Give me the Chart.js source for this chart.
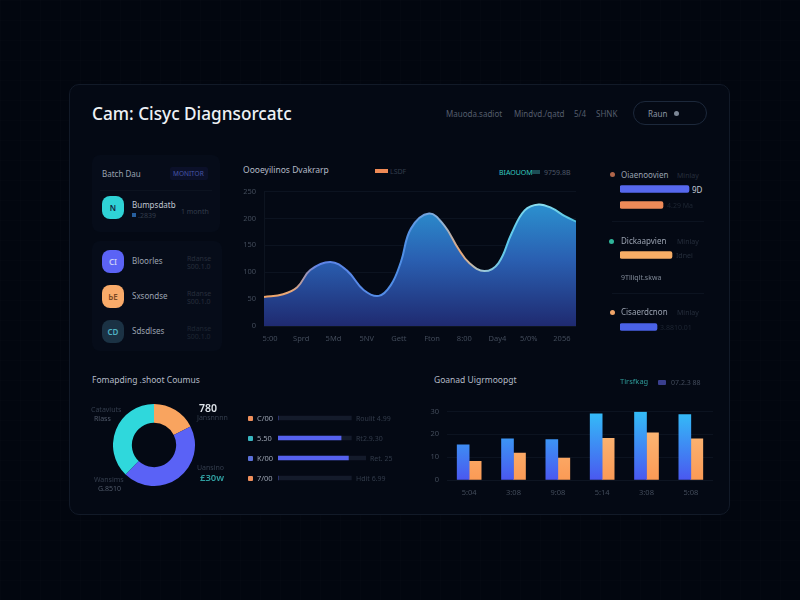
<!DOCTYPE html>
<html>
<head>
<meta charset="utf-8">
<title>Dashboard</title>
<script src="https://cdn.jsdelivr.net/npm/chart.js@4"></script>
<style>
html, body { margin: 0; width: 800px; height: 600px; overflow: hidden; background: #02060f; }
body { background-image: linear-gradient(rgba(255,255,255,.008) 1px, transparent 1px), linear-gradient(90deg, rgba(255,255,255,.008) 1px, transparent 1px); background-size: 20px 20px; }
#page { position: absolute; left: 0; top: 0; width: 800px; height: 600px; font-family: "Noto Sans", sans-serif; filter: blur(.4px); }
#page div, #page span, #page canvas { position: absolute; }
.box { box-sizing: border-box; }
.card { left: 69px; top: 84px; width: 661px; height: 431px; background: #040914; border: 1px solid #121a28; border-radius: 10px; }
.panel { background: #060c19; border-radius: 8px; }
.line { height: 1px; background: #0c1320; }
.t { white-space: nowrap; line-height: 1; transform: translateY(-50%); }
.head { color: #b4bbc7; font-size: 9px; }
.mid { color: #9aa2b0; font-size: 8px; }
.dim { color: #333c4b; font-size: 7px; }
.dot { width: 5px; height: 5px; border-radius: 50%; }
.icon { width: 22px; height: 23px; border-radius: 8px; }
.icon b { position: absolute; left: 0; width: 100%; top: 6px; text-align: center; font-size: 8px; font-weight: 600; color: #11233a; }
</style>
</head>
<body>
<div id="page">
  <div class="box card"></div>
  <div class="box panel" style="left:92px;top:155px;width:128px;height:77px"></div>
  <div class="box panel" style="left:92px;top:241px;width:130px;height:110px"></div>
  <div class="line" style="left:100px;top:190px;width:112px"></div>
  <div class="line" style="left:612px;top:221px;width:92px"></div>
  <div class="line" style="left:612px;top:293px;width:92px"></div>

  <div class="t" style="left:92px;top:114px;font-size:17.2px;font-weight:500;color:#eef1f5">Cam: Cisyc Diagnsorcatc</div>
  <div class="t dim" style="left:446px;top:114px;font-size:8px;color:#545d6c">Mauoda.sadiot</div>
  <div class="t dim" style="left:514px;top:114px;font-size:8px;color:#545d6c">Mindvd./qatd</div>
  <div class="t dim" style="left:574px;top:114px;font-size:8px;color:#545d6c">5/4</div>
  <div class="t dim" style="left:596px;top:114px;font-size:8px;color:#545d6c">SHNK</div>
  <div class="box" style="left:633px;top:101px;width:74px;height:24px;border:1px solid #1c283b;border-radius:12px"></div>
  <div class="t dim" style="left:648px;top:114px;font-size:8px;color:#8b94a3">Raun</div>
  <div class="dot" style="left:674px;top:111px;background:#7c8796"></div>

  <div class="t mid" style="left:102px;top:174px">Batch Dau</div>
  <div class="box" style="left:170px;top:167px;width:38px;height:13px;background:#0b1029;border-radius:2px"></div>
  <div class="t dim" style="left:173px;top:174px;color:#4756a8;font-size:6.5px">MONITOR</div>
  <div class="icon" style="left:102px;top:196px;background:#2fd3d6"><b>N</b></div>
  <div class="t mid" style="left:132px;top:205px;color:#c0c7d2">Bumpsdatb</div>
  <div class="box" style="left:132px;top:213px;width:4px;height:4px;background:#275f9e"></div>
  <div class="t dim" style="left:138px;top:215px">.2839</div>
  <div class="t dim" style="left:181px;top:211px">1 month</div>

  <div class="icon" style="left:102px;top:250px;background:#5b63f5"><b style="color:#c8ccf7">CI</b></div>
  <div class="t mid" style="left:132px;top:261px">Bloorles</div>
  <div class="t dim" style="left:187px;top:258px;color:#262e3c">Rdanse</div>
  <div class="t dim" style="left:187px;top:266px;color:#262e3c">S00.1.0</div>
  <div class="icon" style="left:102px;top:285px;background:#f9ab6a"><b style="color:#7a4a24">ЬE</b></div>
  <div class="t mid" style="left:132px;top:296px">Sxsondse</div>
  <div class="t dim" style="left:187px;top:293px;color:#262e3c">Rdanse</div>
  <div class="t dim" style="left:187px;top:301px;color:#262e3c">S00.1.0</div>
  <div class="icon" style="left:102px;top:320px;background:#1b3244"><b style="color:#4fb3c4">CD</b></div>
  <div class="t mid" style="left:132px;top:331px">Sdsdlses</div>
  <div class="t dim" style="left:187px;top:328px;color:#1e2633">Rdanse</div>
  <div class="t dim" style="left:187px;top:336px;color:#1e2633">S00.1.0</div>

  <div class="t head" style="left:243px;top:170px;font-size:8.5px">Oooeyilinos Dvakrarp</div>
  <div class="box" style="left:375px;top:169px;width:13px;height:4px;background:#ef8a55"></div>
  <div class="t dim" style="left:390px;top:171px">LSDF</div>
  <div class="t mid" style="left:499px;top:172px;color:#35c9c0;font-size:7px">BIAOUOM</div>
  <div class="box" style="left:532px;top:170px;width:8px;height:4px;background:#1c4c55"></div>
  <div class="t dim" style="left:544px;top:172px;color:#4c5666">9759.8B</div>

  <canvas id="areaChart" width="342" height="177" style="left:234px;top:179px"></canvas>

  <div class="dot" style="left:610px;top:172px;background:#b0654a"></div>
  <div class="t mid" style="left:621px;top:175px">Oiaenoovien</div>
  <div class="t dim" style="left:677px;top:175px;color:#262e3c">Minlay</div>
  <canvas id="sideA" width="70" height="32" style="left:620px;top:181px"></canvas>
  <div class="t mid" style="left:692px;top:190px;color:#c3cad6">9D</div>
  <div class="t dim" style="left:667px;top:205px;color:#1e2633">4.29 Ma</div>

  <div class="dot" style="left:609px;top:239px;background:#30b59a"></div>
  <div class="t mid" style="left:621px;top:241px">Dickaapvien</div>
  <div class="t dim" style="left:677px;top:241px;color:#262e3c">Minlay</div>
  <canvas id="sideB" width="70" height="14" style="left:620px;top:248px"></canvas>
  <div class="t dim" style="left:676px;top:255px;color:#262e3c">Idnei</div>
  <div class="t mid" style="left:621px;top:277px;color:#7f8896;font-size:7px">9Tlliqlt.skwa</div>

  <div class="dot" style="left:610px;top:310px;background:#f0a468"></div>
  <div class="t mid" style="left:621px;top:312px">Cisaerdcnon</div>
  <div class="t dim" style="left:677px;top:312px;color:#262e3c">Minlay</div>
  <canvas id="sideC" width="70" height="14" style="left:620px;top:320px"></canvas>
  <div class="t dim" style="left:660px;top:327px;color:#1e2633">3.8810.01</div>

  <div class="t head" style="left:92px;top:380px;font-size:8.5px">Fomapding .shoot Coumus</div>
  <canvas id="donutChart" width="82" height="82" style="left:113px;top:404px"></canvas>
  <div class="t dim" style="left:91px;top:409px;color:#353e4e">Cataviuts</div>
  <div class="t dim" style="left:94px;top:418px;color:#515a6a">Rlass</div>
  <div class="t dim" style="left:94px;top:479px;color:#353e4e">Wansims</div>
  <div class="t dim" style="left:98px;top:488px;color:#515a6a">G.8510</div>
  <div class="t" style="left:199px;top:408px;font-size:10.5px;font-weight:600;color:#dfe4ea">780</div>
  <div class="t dim" style="left:197px;top:417px;color:#353e4e">Jansnnnn</div>
  <div class="t dim" style="left:197px;top:467px;color:#353e4e">Uansino</div>
  <div class="t" style="left:200px;top:478px;font-size:9.5px;font-weight:600;color:#2f9ea0">£30w</div>

  <div class="dot" style="left:248px;top:416px;background:#ef8f5c;border-radius:1px"></div>
  <div class="dot" style="left:248px;top:436px;background:#38b6c0;border-radius:1px"></div>
  <div class="dot" style="left:248px;top:456px;background:#5b70d8;border-radius:1px"></div>
  <div class="dot" style="left:248px;top:476px;background:#ef8f5c;border-radius:1px"></div>
  <div class="t mid" style="left:257px;top:419px;font-size:7.5px">C/00</div>
  <div class="t mid" style="left:257px;top:439px;font-size:7.5px">5.50</div>
  <div class="t mid" style="left:257px;top:459px;font-size:7.5px">K/00</div>
  <div class="t mid" style="left:257px;top:479px;font-size:7.5px">7/00</div>
  <canvas id="rowChart" width="88" height="80" style="left:278px;top:408px"></canvas>
  <div class="t dim" style="left:356px;top:418px">Roulit 4.99</div>
  <div class="t dim" style="left:356px;top:438px">Rt2.9.30</div>
  <div class="t dim" style="left:370px;top:458px">Ret. 25</div>
  <div class="t dim" style="left:356px;top:478px">Hdit 6.99</div>

  <div class="t head" style="left:434px;top:380px;font-size:8.5px">Goanad Uigrmoopgt</div>
  <div class="t mid" style="left:620px;top:382px;color:#2f9a98;font-size:7.5px">Tirsfkag</div>
  <div class="box" style="left:658px;top:380px;width:8px;height:5px;background:#3a3f8e;border-radius:1px"></div>
  <div class="t dim" style="left:671px;top:382px;color:#434c5c">07.2.3 88</div>
  <canvas id="barChart" width="290" height="97" style="left:423px;top:399px"></canvas>
</div>

<script>
// Trend chart
const trendX = [0, 19, 33, 46, 66, 83, 99, 114, 126, 136, 146, 164, 179, 193, 204, 219, 233, 246, 259, 273, 286, 299, 310];
const trendY = [54, 59, 72, 104, 119, 102, 67, 56, 76, 119, 181, 209, 187, 144, 117, 102, 117, 172, 215, 226, 219, 204, 194];
const trendTickX = [6, 37, 69, 102, 134, 167, 199, 232, 263, 296];
const trendTickLabels = ["5:00", "Sprd", "5Md", "5NV", "Gett", "Fton", "8:00", "Day4", "5/0%", "2056"];
const trendYTicks = [0, 50, 100, 150, 200, 250];

// Side bars
const sideAValues = [69, 43];
const sideBValues = [52];
const sideCValues = [37];

// Doughnut
const donutLabels = ["Orange", "Blue", "Cyan"];
const donutValues = [17.5, 44.7, 37.8];

// Rows next to the doughnut
const rowLabels = ["C/00", "5.50", "K/00", "7/00"];
const rowTrack = [100, 100, 120, 100];
const rowFill = [0, 86, 96, 0];

// Grouped bars
const barLabels = ["5:04", "3:08", "9:08", "5:14", "3:08", "5:08"];
const barBlue = [15.4, 18, 17.7, 29, 29.8, 28.6];
const barOrange = [8.2, 11.8, 9.6, 18.2, 20.7, 18];
const barYTicks = [0, 10, 20, 30];

Chart.defaults.animation = false;
Chart.defaults.responsive = false;
Chart.defaults.font.family = '"Noto Sans", sans-serif';
Chart.defaults.plugins.legend.display = false;
Chart.defaults.plugins.tooltip.enabled = false;

function vertical(chart, stops) {
    const area = chart.chartArea;
    const g = chart.ctx.createLinearGradient(0, area.top, 0, area.bottom);
    stops.forEach(s => g.addColorStop(s[0], s[1]));
    return g;
}

new Chart(document.getElementById("areaChart"), {
    type: "line",
    data: {
        datasets: [{
            data: trendX.map((x, i) => ({ x: x, y: trendY[i] })),
            fill: true,
            pointRadius: 0,
            borderWidth: 2,
            tension: 0.4,
            backgroundColor: c => c.chart.chartArea ? vertical(c.chart, [[0, "#2c95d8"], [0.15, "#2b8acb"], [0.5, "#2a60b2"], [1, "#1f2a70"]]) : "#2a60b2",
            borderColor: c => {
                const area = c.chart.chartArea;
                if (!area) return "#5b8bea";
                const g = c.chart.ctx.createLinearGradient(area.left, 0, area.right, 0);
                [[0, "#f0a468"], [0.09, "#e8a878"], [0.17, "#5f84e8"], [0.45, "#4f8fe6"], [0.57, "#8fb4d8"], [0.63, "#eaa878"], [0.7, "#9fc8d8"], [0.78, "#5cc8ea"], [0.88, "#8fe0f0"], [1, "#4fc0e0"]].forEach(s => g.addColorStop(s[0], s[1]));
                return g;
            }
        }]
    },
    options: {
        scales: {
            x: {
                type: "linear",
                min: 0,
                max: 310,
                afterBuildTicks: axis => { axis.ticks = trendTickX.map(v => ({ value: v })); },
                afterFit: axis => { axis.height = 30; },
                grid: { display: false },
                border: { color: "#0d1420" },
                ticks: {
                    autoSkip: false,
                    maxRotation: 0,
                    padding: 0,
                    color: "#434c5b",
                    font: { size: 7.5 },
                    callback: (v, i) => trendTickLabels[i]
                }
            },
            y: {
                min: 0,
                max: 250,
                afterBuildTicks: axis => { axis.ticks = trendYTicks.map(v => ({ value: v })); },
                afterFit: axis => { axis.width = 30; },
                grid: { color: "#0c1320", drawTicks: false },
                border: { color: "#0d1420" },
                ticks: { color: "#434c5b", font: { size: 7.5 }, padding: 8 }
            }
        }
    }
});

function sideBars(id, values, colors) {
    new Chart(document.getElementById(id), {
        type: "bar",
        data: {
            labels: values.map((v, i) => i),
            datasets: [{ data: values, backgroundColor: colors, barThickness: 7, borderRadius: 2, borderSkipped: false }]
        },
        options: {
            indexAxis: "y",
            scales: {
                x: { display: false, min: 0, max: 70 },
                y: { display: false }
            }
        }
    });
}
sideBars("sideA", sideAValues, ["#5668ee", "#ee8a58"]);
sideBars("sideB", sideBValues, ["#f6ad66"]);
sideBars("sideC", sideCValues, ["#4a62e6"]);

new Chart(document.getElementById("donutChart"), {
    type: "doughnut",
    data: {
        labels: donutLabels,
        datasets: [{ data: donutValues, backgroundColor: ["#f9a45f", "#5a62f6", "#2fd8dc"], borderWidth: 0 }]
    },
    options: { cutout: "54%" }
});

new Chart(document.getElementById("rowChart"), {
    type: "bar",
    data: {
        labels: rowLabels,
        datasets: [
            { data: rowFill, backgroundColor: "#5561ee", barThickness: 4, grouped: false },
            { data: rowTrack, backgroundColor: "#141b2b", barThickness: 4, grouped: false }
        ]
    },
    options: {
        indexAxis: "y",
        scales: {
            x: { display: false, min: 0, max: 120 },
            y: { display: false }
        }
    }
});

new Chart(document.getElementById("barChart"), {
    type: "bar",
    data: {
        labels: barLabels,
        datasets: [
            {
                data: barBlue,
                barThickness: 12,
                backgroundColor: c => c.chart.chartArea ? vertical(c.chart, [[0, "#33bdf7"], [1, "#4a58f0"]]) : "#3f8bf3"
            },
            {
                data: barOrange,
                barThickness: 12,
                backgroundColor: c => c.chart.chartArea ? vertical(c.chart, [[0, "#fbc080"], [1, "#fb9a55"]]) : "#fbaa66"
            }
        ]
    },
    options: {
        scales: {
            x: {
                afterFit: axis => { axis.height = 16; },
                grid: { display: false },
                border: { color: "#0e1522" },
                ticks: { maxRotation: 0, padding: 0, color: "#434c5b", font: { size: 7.5 } }
            },
            y: {
                min: 0,
                max: 30,
                afterBuildTicks: axis => { axis.ticks = barYTicks.map(v => ({ value: v })); },
                afterFit: axis => { axis.width = 24; },
                grid: { color: "#0c1320", drawTicks: false },
                border: { display: false },
                ticks: { color: "#434c5b", font: { size: 7.5 }, padding: 8 }
            }
        }
    }
});
</script>
</body>
</html>
